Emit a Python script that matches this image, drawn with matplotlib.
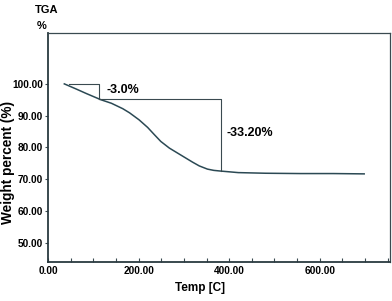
import matplotlib
matplotlib.use("Agg")
import matplotlib.pyplot as plt
from matplotlib.ticker import MultipleLocator, FormatStrFormatter

# --- data ---
temp = [36, 62, 84, 117, 140, 165, 180, 201, 220, 235, 249, 268, 290,
        319, 334, 352, 366, 380, 420, 480, 558, 630, 698]
weight = [100.0, 98.4, 97.0, 95.0, 93.9, 92.2, 90.9, 88.7, 86.3, 84.0, 81.9, 79.8, 77.9,
          75.4, 74.2, 73.2, 72.8, 72.6, 72.1, 71.9, 71.8, 71.8, 71.7]

# step-wise weight-loss markers
step1_t = [47, 113, 113]
step1_w = [100.0, 100.0, 95.2]
step2_t = [113, 382, 382]
step2_w = [95.2, 95.2, 72.6]

LINE = "#2b4954"
FRAME = "#3a4a50"

plt.rcParams.update({
    "font.family": ["Liberation Sans", "DejaVu Sans"],
    "font.weight": "bold",
})

fig = plt.figure(figsize=(3.92, 3.01), dpi=100)
ax = fig.add_axes([48 / 392, 38.7 / 301, 342 / 392, 229 / 301])

ax.plot(temp, weight, color=LINE, lw=1.1)
ax.plot(step1_t, step1_w, color=FRAME, lw=0.8)
ax.plot(step2_t, step2_w, color=FRAME, lw=0.8)

ax.text(166, 98.1, "-3.0%", fontsize=9, fontweight="bold", ha="center", va="center")
ax.text(445, 84.6, "-33.20%", fontsize=9, fontweight="bold", ha="center", va="center")

ax.set_xlim(0, 755)
ax.set_ylim(43.9, 115.9)
ax.set_yticks([50, 60, 70, 80, 90, 100])
ax.xaxis.set_major_locator(MultipleLocator(200))
ax.xaxis.set_minor_locator(MultipleLocator(50))
ax.xaxis.set_major_formatter(FormatStrFormatter("%.2f"))
ax.yaxis.set_major_formatter(FormatStrFormatter("%.2f"))

ax.tick_params(axis="x", which="both", direction="in", length=3, width=0.8,
               labelsize=7.3, pad=3, colors=FRAME, labelcolor="black")
ax.tick_params(axis="y", direction="out", length=2.5, width=0.8,
               labelsize=7.3, pad=1, colors=FRAME, labelcolor="black")
for lbl in ax.get_xticklabels() + ax.get_yticklabels():
    lbl.set_fontweight("bold")

for side in ["top", "right"]:
    ax.spines[side].set_color(FRAME)
    ax.spines[side].set_linewidth(0.9)
for side in ["left", "bottom"]:
    ax.spines[side].set_color("#2a3a40")
    ax.spines[side].set_linewidth(1.3)

fig.text(200 / 392, 1 - 288 / 301, "Temp [C]", fontsize=8.5, fontweight="bold",
         ha="center", va="center")
fig.text(8 / 392, 1 - 162 / 301, "Weight percent (%)", rotation=90,
         fontsize=9.8, fontweight="bold", ha="center", va="center")
fig.text(47 / 392, 1 - 10 / 301, "TGA", fontsize=8, fontweight="bold",
         ha="center", va="center")
fig.text(42 / 392, 1 - 26 / 301, "%", fontsize=8, fontweight="bold",
         ha="center", va="center")

fig.savefig("out.png", dpi=100)
